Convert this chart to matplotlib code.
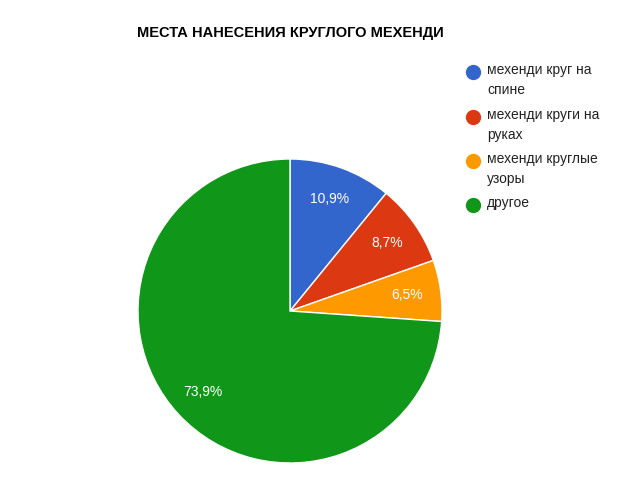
import matplotlib
matplotlib.use("Agg")
import matplotlib.pyplot as plt
from matplotlib.lines import Line2D

labels = ["мехенди круг на\nспине", "мехенди круги на\nруках", "мехенди круглые\nузоры", "другое"]
values = [10.9, 8.7, 6.5, 73.9]
colors = ["#3366cc", "#dc3912", "#ff9900", "#109618"]

W, H = 644, 484
fig = plt.figure(figsize=(W / 100, H / 100), dpi=100)
fig.patch.set_facecolor("white")
plt.rcParams["font.family"] = ["Liberation Sans", "DejaVu Sans"]

# pie centre ~(290, 311) px, radius ~152 px
cx, cy, r = 290, 311, 152
ax = fig.add_axes([(cx - r) / W, (H - cy - r) / H, 2 * r / W, 2 * r / H])
wedges, texts, autotexts = ax.pie(
    values, colors=colors, startangle=90, counterclock=False,
    autopct=lambda p: f"{p:.1f}%".replace(".", ","), pctdistance=0.78,
    wedgeprops=dict(edgecolor="white", linewidth=1))
for t in autotexts:
    t.set_color("white")
    t.set_fontsize(10)
ax.set_xlim(-1, 1)
ax.set_ylim(-1, 1)
ax.set_aspect("equal")

fig.text(290 / W, 1 - 33 / H, "МЕСТА НАНЕСЕНИЯ КРУГЛОГО МЕХЕНДИ",
         ha="center", va="center", fontsize=10.5, fontweight="bold", color="#000000")

ys = [72, 117, 161, 205]
for lab, col, y in zip(labels, colors, ys):
    fig.add_artist(Line2D([473 / W], [1 - y / H], marker="o", markersize=10,
                          color=col, transform=fig.transFigure))
    fig.text(487 / W, 1 - (y - 9) / H, lab, ha="left", va="top",
             fontsize=10, color="#222222", linespacing=1.5)

fig.savefig("out.png", dpi=100, facecolor="white")
